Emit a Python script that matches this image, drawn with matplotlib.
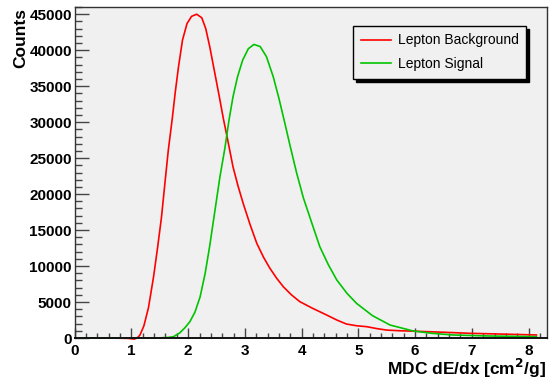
import matplotlib
matplotlib.use("Agg")
import matplotlib.pyplot as plt
from matplotlib.ticker import MultipleLocator

plt.rcParams['font.family'] = ['Liberation Sans', 'DejaVu Sans']

# Lepton Background (red)
bkg_x = [0.15, 0.6, 0.95, 1.05, 1.1, 1.15, 1.22, 1.3, 1.39, 1.46, 1.53, 1.59, 1.65,
         1.72, 1.77, 1.83, 1.9, 1.98, 2.06, 2.15, 2.24, 2.31, 2.38, 2.47, 2.55, 2.62,
         2.68, 2.79, 2.88, 2.97, 3.09, 3.21, 3.33, 3.44, 3.56, 3.68, 3.82, 3.97, 4.2,
         4.44, 4.62, 4.79, 4.97, 5.15, 5.33, 5.5, 5.75, 5.97, 6.5, 6.97, 7.5, 8.14]
bkg_y = [0, 0, -60, -150, 0, 400, 1700, 4200, 8500, 12500, 16800, 21500, 26100,
         30500, 34000, 37700, 41400, 43700, 44700, 45000, 44500, 43000, 40500, 36800, 33500, 30500,
         28200, 23800, 21100, 18700, 15800, 13150, 11200, 9700, 8300, 7100, 6000, 5040, 4100,
         3200, 2500, 1940, 1700, 1570, 1300, 1100, 1000, 950, 800, 650, 550, 420]

# Lepton Signal (green)
sig_x = [0.15, 1.0, 1.5, 1.65, 1.74, 1.85, 1.94, 2.03, 2.12, 2.21, 2.3, 2.38, 2.44,
         2.5, 2.56, 2.65, 2.72, 2.79, 2.87, 2.96, 3.06, 3.16, 3.27, 3.38, 3.5, 3.6,
         3.7, 3.8, 3.91, 4.03, 4.2, 4.32, 4.47, 4.62, 4.8, 4.97, 5.25, 5.56, 5.97,
         6.3, 6.67, 7.3, 8.14]
sig_y = [0, 0, 20, 80, 180, 700, 1400, 2260, 3600, 5700, 9000, 12800, 16000,
         19200, 22400, 26500, 30300, 33500, 36300, 38600, 40200, 40800, 40500, 39100, 36300, 33300,
         30000, 26600, 23000, 19500, 15500, 12700, 10200, 8060, 6200, 4800, 3100, 1800, 970,
         650, 420, 280, 180]

fig = plt.figure(figsize=(5.54, 3.84), dpi=100)
ax = fig.add_axes([74.7/554, 46/384, (546.7-74.7)/554, (338-7)/384])
ax.set_facecolor('#f0f0f0')

ax.plot(bkg_x, bkg_y, color='#ff0000', lw=1.2, label='Lepton Background', clip_on=False)
ax.plot(sig_x, sig_y, color='#00c400', lw=1.2, label='Lepton Signal', clip_on=False)

ax.set_xlim(0, 8.32)
ax.set_ylim(0, 46000)

ax.xaxis.set_major_locator(MultipleLocator(1))
ax.xaxis.set_minor_locator(MultipleLocator(0.2))
ax.yaxis.set_major_locator(MultipleLocator(5000))
ax.yaxis.set_minor_locator(MultipleLocator(1000))
ax.tick_params(axis='both', which='both', direction='in', top=False, right=False,
               color='#444444', width=1)
ax.tick_params(axis='x', which='major', length=7.5, pad=4)
ax.tick_params(axis='x', which='minor', length=3.6)
ax.tick_params(axis='y', which='major', length=10, pad=2)
ax.tick_params(axis='y', which='minor', length=5)
for lab in ax.get_xticklabels() + ax.get_yticklabels():
    lab.set_fontweight('bold')
    lab.set_fontsize(11)

for s in ax.spines.values():
    s.set_linewidth(1.0)
    s.set_color('#333333')
ax.spines['bottom'].set_linewidth(1.4)
ax.spines['bottom'].set_color('#111111')

fig.text(21/554, 1-8/384, 'Counts', rotation=90, ha='center', va='top',
         fontweight='bold', fontsize=12.5)
fig.text(546/554, 9/384, r'MDC dE/dx [cm$^{\mathbf{2}}$/g]', ha='right', va='baseline',
         fontweight='bold', fontsize=12.5)

leg = ax.legend(loc='upper right', bbox_to_anchor=(0.971, 0.964), fontsize=10,
                handlelength=2.16, handletextpad=0.5, borderpad=0.55, labelspacing=0.7,
                fancybox=False, framealpha=1, facecolor='#f0f0f0', edgecolor='black',
                shadow={'color': 'black', 'alpha': 1})
leg.get_frame().set_linewidth(1.0)

plt.savefig("out.png", dpi=100)
